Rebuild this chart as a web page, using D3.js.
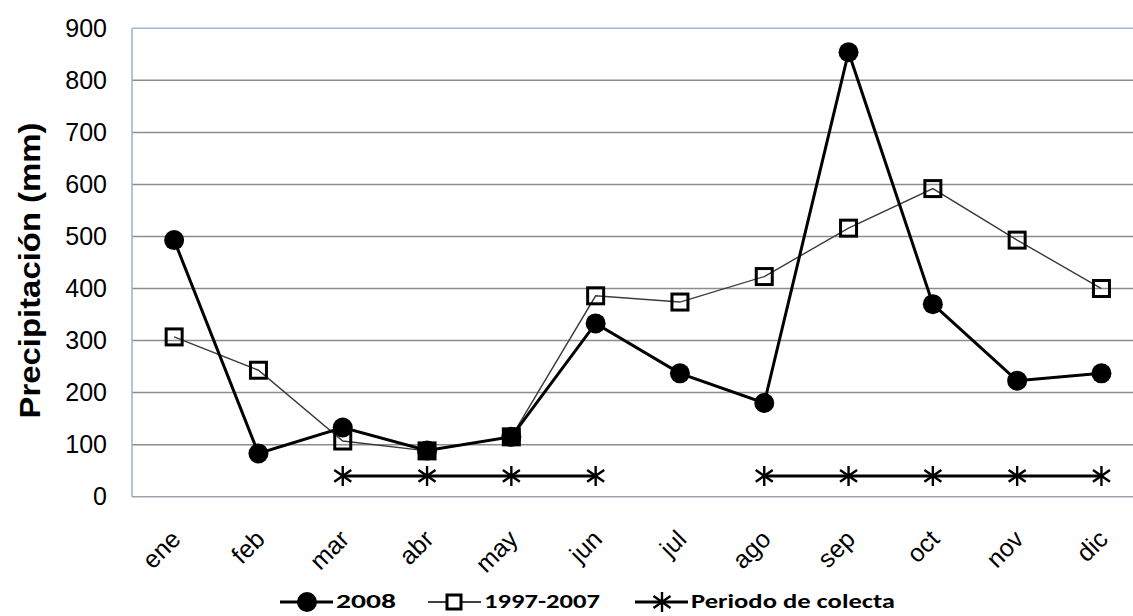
<!DOCTYPE html>
<html>
<head>
<meta charset="utf-8">
<script src="https://cdn.jsdelivr.net/npm/d3@7"></script>
<style>
  body { margin: 0; background: #fff; }
  svg { display: block; }
</style>
</head>
<body>
<div id="chart"></div>
<script>
// months on the x axis
var months = ["ene", "feb", "mar", "abr", "may", "jun", "jul", "ago", "sep", "oct", "nov", "dic"];
// rainfall, mm
var lluvia2008 = [493, 83, 133, 89, 115, 333, 237, 180, 854, 370, 223, 237];
var lluvia19972007 = [307, 243, 107, 88, 115, 386, 374, 423, 516, 592, 493, 400];
// collection period marker (null = no sampling that month)
var colecta = [null, null, 40, 40, 40, 40, null, 40, 40, 40, 40, 40];
var yTicks = [0, 100, 200, 300, 400, 500, 600, 700, 800, 900];

var width = 1133, height = 616;
var margin = { top: 28.3, left: 132, bottom: 119.3 };
var plotRight = 1143.6; // plot area runs past the right edge in the original

var svg = d3.select("#chart").append("svg")
  .attr("width", width)
  .attr("height", height);

var x = d3.scaleBand().domain(months).range([margin.left, plotRight]).padding(0);
var y = d3.scaleLinear().domain([0, 900]).range([height - margin.bottom, margin.top]);
var cx = function (m) { return x(m) + x.bandwidth() / 2; };

// gridlines
svg.append("g")
  .selectAll("line")
  .data(yTicks.slice(1, -1))
  .enter().append("line")
  .attr("x1", margin.left).attr("x2", plotRight)
  .attr("y1", function (d) { return y(d); })
  .attr("y2", function (d) { return y(d); })
  .attr("stroke", "#8c8c8c")
  .attr("stroke-width", 1.5);

// plot frame: top + left light blue, bottom gray
svg.append("line")
  .attr("x1", margin.left).attr("x2", plotRight)
  .attr("y1", y(900)).attr("y2", y(900))
  .attr("stroke", "#9cb6e4").attr("stroke-width", 1.5);
svg.append("line")
  .attr("x1", margin.left).attr("x2", margin.left)
  .attr("y1", y(900)).attr("y2", y(0))
  .attr("stroke", "#9aaed2").attr("stroke-width", 1.5);
svg.append("line")
  .attr("x1", margin.left).attr("x2", plotRight)
  .attr("y1", y(0)).attr("y2", y(0))
  .attr("stroke", "#9ea4b0").attr("stroke-width", 1.5);

// y axis labels
var yAxis = d3.axisLeft(y).tickValues(yTicks).tickSize(0).tickPadding(25);
var gy = svg.append("g")
  .attr("transform", "translate(" + margin.left + ",0)")
  .call(yAxis);
gy.select(".domain").remove();
gy.selectAll("text")
  .attr("font-family", "'Liberation Sans', Arial, sans-serif")
  .attr("font-size", 25)
  .attr("fill", "#000");

// x axis labels, rotated
var xAxis = d3.axisBottom(x).tickSize(0);
var gx = svg.append("g")
  .attr("transform", "translate(0," + y(0) + ")")
  .call(xAxis);
gx.select(".domain").remove();
gx.selectAll("text")
  .attr("font-family", "'Liberation Sans', Arial, sans-serif")
  .attr("font-size", 25)
  .attr("fill", "#000")
  .attr("text-anchor", "end")
  .attr("dy", null)
  .attr("y", null)
  .attr("transform", "translate(8,44) rotate(-45)");

// y axis title
svg.append("text")
  .attr("transform", "translate(40," + ((y(900) + y(0)) / 2 + 8) + ") rotate(-90)")
  .attr("text-anchor", "middle")
  .attr("font-family", "'Liberation Sans', Arial, sans-serif")
  .attr("font-weight", "bold")
  .attr("font-size", 29)
  .attr("textLength", 296)
  .attr("lengthAdjust", "spacingAndGlyphs")
  .text("Precipitación (mm)");

function rows(vals) {
  return months.map(function (m, i) { return { m: m, v: vals[i] }; });
}

var line = d3.line()
  .defined(function (d) { return d.v != null; })
  .x(function (d) { return cx(d.m); })
  .y(function (d) { return y(d.v); });

// asterisk marker path
function star(s) {
  var h = s / 2, d = h * 0.85;
  return "M0," + (-h) + "V" + h +
    "M" + (-d) + "," + (-d * 0.7) + "L" + d + "," + (d * 0.7) +
    "M" + (-d) + "," + (d * 0.7) + "L" + d + "," + (-d * 0.7);
}

// collection period
svg.append("path")
  .datum(rows(colecta))
  .attr("d", line)
  .attr("fill", "none").attr("stroke", "#000").attr("stroke-width", 3);
svg.append("g").selectAll("path")
  .data(rows(colecta).filter(function (d) { return d.v != null; }))
  .enter().append("path")
  .attr("d", star(20))
  .attr("transform", function (d) { return "translate(" + cx(d.m) + "," + y(d.v) + ")"; })
  .attr("stroke", "#000").attr("stroke-width", 2.4).attr("fill", "none");

// 1997-2007 average
svg.append("path")
  .datum(rows(lluvia19972007))
  .attr("d", line)
  .attr("fill", "none").attr("stroke", "#3a3a3a").attr("stroke-width", 1.4);

// 2008
svg.append("path")
  .datum(rows(lluvia2008))
  .attr("d", line)
  .attr("fill", "none").attr("stroke", "#000").attr("stroke-width", 3);
svg.append("g").selectAll("circle")
  .data(rows(lluvia2008))
  .enter().append("circle")
  .attr("cx", function (d) { return cx(d.m); })
  .attr("cy", function (d) { return y(d.v); })
  .attr("r", 10)
  .attr("fill", "#000");

// squares on top, no fill
svg.append("g").selectAll("rect")
  .data(rows(lluvia19972007))
  .enter().append("rect")
  .attr("x", function (d) { return cx(d.m) - 8; })
  .attr("y", function (d) { return y(d.v) - 8; })
  .attr("width", 16).attr("height", 16)
  .attr("fill", "none")
  .attr("stroke", "#000").attr("stroke-width", 3);

// legend
var legendY = 602;
var legendFont = "Carlito, Calibri, 'Liberation Sans Narrow', 'Open Sans', sans-serif";
var legendItems = [
  { label: "2008", x0: 280, w: 60, type: "circle" },
  { label: "1997-2007", x0: 428, w: 116, type: "square" },
  { label: "Periodo de colecta", x0: 635, w: 204, type: "star" }
];
var lg = svg.append("g").selectAll("g")
  .data(legendItems)
  .enter().append("g")
  .attr("transform", function (d) { return "translate(" + d.x0 + "," + legendY + ")"; });
lg.append("line")
  .attr("x1", 0).attr("x2", 53).attr("y1", 0).attr("y2", 0)
  .attr("stroke", "#000")
  .attr("stroke-width", function (d) { return d.type == "square" ? 1.4 : 3; });
lg.filter(function (d) { return d.type == "circle"; })
  .append("circle").attr("cx", 27).attr("cy", 0).attr("r", 10).attr("fill", "#000");
lg.filter(function (d) { return d.type == "square"; })
  .append("rect").attr("x", 19).attr("y", -7).attr("width", 14).attr("height", 14)
  .attr("fill", "#fff").attr("stroke", "#000").attr("stroke-width", 3);
lg.filter(function (d) { return d.type == "star"; })
  .append("path").attr("d", star(20)).attr("transform", "translate(27,0)")
  .attr("stroke", "#000").attr("stroke-width", 2.4).attr("fill", "none");
lg.append("text")
  .attr("x", 56).attr("y", 6)
  .attr("font-family", legendFont)
  .attr("font-weight", "bold")
  .attr("font-size", 21)
  .attr("textLength", function (d) { return d.w; })
  .attr("lengthAdjust", "spacingAndGlyphs")
  .text(function (d) { return d.label; });
</script>
</body>
</html>
